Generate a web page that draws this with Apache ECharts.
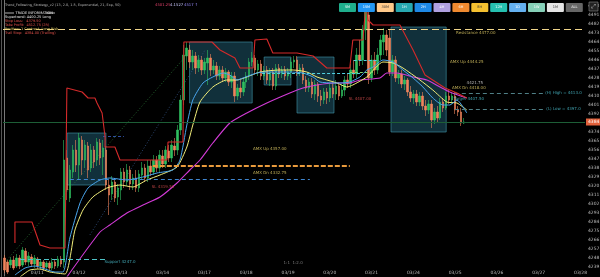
<!DOCTYPE html>
<html><head><meta charset="utf-8">
<script src="https://cdn.jsdelivr.net/npm/echarts@6/dist/echarts.min.js"></script>
<style>html,body{margin:0;padding:0;background:#000;}#c{width:600px;height:277px;}</style>
</head><body><div id="c"></div>
<script>
// ---- candle data (prices) ----
const opens=[4248,4244,4241,4246,4240,4248,4241,4255,4244,4249,4242,4247,4240,4244,4239,4243,4238,4244,4240,4247,
4244,4348,4308,4334,4356,4341,4366,4346,4360,4338,4356,4346,4363,4349,4356,4321,4312,4324,4309,4316,
4334,4324,4336,4322,4328,4318,4331,4338,4328,4340,4334,4346,4338,4350,4342,4355,4348,4360,4356,4376,
4406,4450,4456,4444,4450,4438,4446,4436,4443,4448,4436,4440,4430,4436,4428,4434,4424,4430,4410,4418,
4414,4424,4430,4444,4448,4436,4442,4430,4436,4426,4434,4420,4438,4432,4436,4430,4434,4444,4446,4434,
4438,4426,4418,4424,4412,4422,4410,4406,4414,4408,4418,4412,4420,4410,4416,4426,4422,4436,4432,4451,
4446,4476,4491,4428,4446,4436,4451,4464,4471,4468,4434,4446,4428,4432,4422,4426,4414,4408,4412,4404,
4410,4400,4396,4402,4386,4394,4388,4404,4398,4410,4406,4410,4396,4394,4383];
const closes=[4236,4234,4246,4238,4248,4240,4256,4244,4250,4242,4248,4240,4244,4238,4243,4238,4244,4240,4247,4242,
4346,4316,4336,4356,4341,4368,4346,4361,4336,4356,4344,4364,4348,4358,4321,4311,4324,4308,4318,4334,
4324,4336,4322,4328,4318,4332,4338,4328,4340,4334,4346,4338,4351,4342,4356,4348,4361,4356,4376,4406,
4451,4458,4444,4450,4438,4446,4436,4444,4448,4436,4440,4430,4436,4428,4434,4424,4430,4410,4418,4414,
4424,4430,4444,4448,4436,4442,4430,4436,4426,4434,4420,4438,4432,4436,4430,4434,4444,4446,4434,4438,
4426,4418,4424,4412,4422,4410,4406,4414,4408,4418,4412,4420,4410,4416,4426,4422,4436,4432,4451,4446,
4476,4494,4428,4446,4436,4451,4466,4471,4456,4434,4446,4428,4432,4422,4426,4414,4408,4412,4404,4410,
4400,4396,4402,4386,4394,4388,4404,4398,4410,4406,4410,4396,4394,4383,4384];
const lows=[4233,4232,4238,4236,4238,4237,4239,4241,4240,4239,4238,4237,4236,4235,4236,4235,4236,4237,4238,4239,
4238,4306,4304,4328,4334,4326,4331,4338,4328,4334,4338,4340,4341,4331,4316,4291,4306,4304,4301,4306,
4318,4320,4316,4316,4314,4314,4326,4324,4324,4330,4331,4334,4334,4338,4338,4344,4344,4350,4351,4371,
4401,4436,4438,4436,4432,4434,4431,4432,4421,4430,4432,4426,4426,4424,4424,4420,4418,4404,4406,4408,
4410,4418,4426,4440,4432,4430,4426,4426,4422,4420,4416,4416,4428,4428,4426,4426,4428,4438,4430,4430,
4422,4414,4414,4408,4406,4404,4400,4402,4402,4404,4408,4406,4406,4408,4410,4418,4418,4428,4428,4440,
4441,4466,4422,4424,4431,4432,4446,4451,4450,4430,4430,4424,4422,4418,4416,4410,4404,4402,4400,4400,
4396,4390,4392,4378,4382,4384,4386,4394,4396,4402,4402,4392,4390,4380,4382];
const highs=[4251,4246,4249,4250,4252,4251,4259,4258,4254,4252,4251,4249,4247,4246,4245,4245,4248,4247,4250,4250,
4366,4356,4341,4361,4366,4373,4370,4366,4364,4362,4360,4368,4367,4366,4360,4326,4330,4328,4322,4338,
4338,4342,4340,4332,4336,4336,4344,4342,4346,4346,4351,4350,4356,4356,4360,4361,4366,4368,4381,4411,
4461,4464,4461,4456,4454,4451,4450,4448,4456,4452,4446,4444,4440,4440,4438,4436,4434,4434,4422,4426,
4428,4434,4448,4454,4451,4446,4446,4440,4440,4438,4438,4442,4442,4440,4440,4438,4448,4450,4450,4442,
4442,4430,4428,4428,4426,4424,4416,4418,4418,4422,4424,4426,4424,4422,4430,4432,4442,4446,4458,4466,
4481,4501,4496,4451,4454,4458,4471,4478,4476,4476,4451,4450,4436,4436,4430,4428,4420,4416,4416,4414,
4414,4406,4406,4406,4398,4400,4408,4408,4414,4416,4414,4414,4400,4398,4388];
// ---- indicator lines [bar index, price] ----
const blueMA=[[3.5,4231],[6.9,4238],[10.2,4240],[13.6,4237],[16.9,4234],[19.6,4234],[21.9,4268],[25.3,4303],[28,4318],[32,4326],[35.3,4328],[41,4326],[46.4,4329],[51.1,4333],[56.4,4336],[58.8,4346],[61.1,4381],[63.1,4406],[66.5,4423],[69.8,4429],[73.2,4433],[75.5,4431],[77.9,4426],[79.9,4428],[84.6,4433],[87.9,4434],[92.3,4434],[95.6,4434],[100,4433],[103.4,4429],[105.7,4424],[110.1,4423],[112.4,4423],[115.7,4424],[119.1,4429],[121.4,4436],[123.5,4439],[126.8,4446],[130.2,4444],[133.5,4436],[136.9,4428],[140.2,4419],[143.5,4408],[146.9,4401],[149.2,4401],[151.6,4406],[154.9,4393]];
const yellowMA=[[5.2,4229],[8.5,4236],[11.9,4237],[15.2,4234],[20.3,4232],[23.6,4276],[26.3,4296],[29.6,4309],[34.3,4318],[38.7,4321],[43,4319],[47.7,4326],[52.1,4331],[57.8,4339],[61.1,4359],[63.1,4381],[65.5,4404],[69.8,4419],[74.5,4426],[77.9,4426],[81.2,4429],[85.6,4434],[92.3,4436],[96.7,4436],[101.3,4434],[104.7,4429],[108,4426],[111.4,4423],[114.7,4419],[116.7,4421],[121.4,4429],[126.8,4444],[130.2,4443],[133.5,4438],[139.2,4426],[143.5,4416],[148.2,4404],[151.6,4403],[154.9,4396]];
const magentaMA=[[20.9,4229],[32,4274],[35.3,4281],[41,4293],[46.4,4301],[52.1,4309],[57.8,4323],[62.1,4336],[65.5,4346],[69.8,4363],[75.5,4383],[81.2,4393],[87.9,4403],[95.6,4413],[100,4418],[104.7,4421],[110.1,4423],[115.7,4423],[119.1,4426],[125.8,4428],[128.1,4433],[131.5,4433],[136.9,4429],[141.5,4426],[145.9,4419],[149.2,4414],[154.9,4408]];
const redStop=[[3.5,4263],[3.5,4284],[9.2,4284],[11.9,4261],[15.2,4258],[20.3,4258],[20.9,4258],[20.9,4418],[26,4414],[28,4408],[30.3,4408],[31,4403],[32.7,4393],[33.7,4369],[33.7,4359],[37,4359],[38.7,4346],[54.4,4346],[54.8,4364],[59.8,4364],[60.1,4464],[69.5,4464],[72.2,4456],[77.2,4448],[78.9,4438],[83.3,4438],[83.9,4466],[87.9,4467],[89.9,4453],[98,4453],[103.4,4450],[108,4438],[115.7,4438],[116.7,4466],[120.1,4466],[121.1,4503],[121.8,4486],[123.5,4481],[132.5,4481],[136.9,4456],[140.9,4431],[147.6,4418],[151.6,4413],[154.9,4408]];
const trendGreen=[[0.2,4244],[60.5,4449]];
const trendBlue=[[28.6,4271],[67.2,4456]];
// ---- zones [x1, price1, x2, price2] ----
const boxes=[[21,4373,34,4321],[62,4464,83,4403],[87,4449,96,4421],[98,4449,110.4,4393],[129.5,4479,148,4374]];
// ---- levels [price, x1, x2, color, width, dash] (x null = full width) ----
const levels=[[4477,null,null,'#f0d58a',1.2,[7,4]],[4340,49.7,115.7,'#e89a3c',2,[5,2]],[4327,21.9,102.3,'#3f86d0',1,[4,3]],[4247,5.2,33.7,'#4fc3c8',1,[5,3]],[4433,86.3,119.1,'#4fd0e0',1,[3,2]],[4434,115.7,124.1,'#7bd36b',1,[3,2]],[4446,117,125.5,'#4fd0e0',1,[3,2]],[4413,150.9,181.1,'#4f7f86',1,[4,3]],[4397,150.9,181.1,'#4f7f86',1,[4,3]],[4370,33,40,'#3050a0',1,[3,2]]];
const lastPrice=4384;
const notes=[[88.9,4357,'AMX Up 4357.00','#e8d36a'],[88.9,4333,'AMX Dn 4332.75','#e8d36a'],[157.9,4473,'Resistance 4477.00','#e8d36a'],[154.9,4444,'AMX Up 4444.25','#e8d36a'],[157.6,4423,'4421.75','#dddddd'],[155.6,4418,'AMX Dn 4418.00','#e8d36a'],[155.6,4407,'Target 4407.50','#4fc8d8'],[53.1,4319,'SL 4319.50','#e05050'],[119.1,4407,'SL 4407.00','#e05050'],[38.7,4244,'Support 4247.0','#4fc8d8'],[187.3,4413,'(H) High = 4413.0','#4fc8d8'],[187.3,4397,'(L) Low = 4397.0','#4fc8d8'],[96.7,4243,'1:1  1:2.0','#999999']];
const xTickLabels=['03/11','03/12','03/13','03/14','03/17','03/18','03/19','03/20','03/21','03/24','03/25','03/26','03/27','03/28'];
const tickStart=11, tickStep=14, barCount=195;
const buttonLabels=['5M','15M','30M','1H','2H','4H','6H','8H','12H','1D','1W','1M','ALL'];
const buttonColors=['#1fae8c','#2196f3','#ffc98a','#27a8b0','#1e88e5','#b0a0e0','#f08a30','#f5c030','#26c0b0','#64b0f0','#86d0b8','#e4e4e4','#666666'];

const cats=[]; for(let i=0;i<barCount;i++) cats.push(String(i));
const candleData=opens.map((o,i)=>[o,closes[i],lows[i],highs[i]]);

const chart=echarts.init(document.getElementById('c'),null,{renderer:'canvas'});
const F='DejaVu Sans';
const markLineData=levels.map(l=>{
  const ls={color:l[3],width:l[4],type:l[5]};
  if(l[1]===null) return {yAxis:l[0],lineStyle:ls,label:{show:false}};
  return [{coord:[l[1],l[0]],lineStyle:ls,label:{show:false}},{coord:[l[2],l[0]]}];
});
markLineData.push({yAxis:lastPrice,lineStyle:{color:'#1d5e36',type:'solid',width:1},
  label:{show:true,position:'end',distance:1,formatter:lastPrice.toFixed(1),backgroundColor:'#e0603a',color:'#fff',fontSize:4.5,fontFamily:F,padding:[1,2]}});

const btnGraphics=[];
buttonLabels.forEach((t,k)=>{
  const x=339+k*18.9;
  btnGraphics.push({type:'rect',shape:{x:x,y:3,width:17,height:9,r:1},style:{fill:buttonColors[k]},z:100});
  btnGraphics.push({type:'text',x:x+8.5,y:7.5,style:{text:t,fill:(k===11||k===2||k===7)?'#333':'#fff',font:'3.5px '+F,align:'center',verticalAlign:'middle'},z:101});
});
const txt=(x,y,t,c,s)=>({type:'text',x:x,y:y,style:{text:t,fill:c,font:(s||4.2)+'px '+F,verticalAlign:'middle'},z:100});

chart.setOption({
  backgroundColor:'#000',
  animation:false,
  grid:{left:3,right:15,top:-3,bottom:1,containLabel:false,outerBoundsMode:'none'},
  xAxis:[{type:'category',data:cats,boundaryGap:true,
      axisLine:{show:false},axisTick:{show:false},splitLine:{show:false},
      axisLabel:{inside:true,margin:1,fontSize:4.5,fontFamily:F,color:'#bbb',
        interval:(idx)=>idx>=tickStart&&(idx-tickStart)%tickStep===0,
        formatter:(v,idx)=>xTickLabels[Math.round((idx-tickStart)/tickStep)]||''}},
    {type:'value',min:-0.5,max:barCount-0.5,show:false}],
  yAxis:{type:'value',position:'right',min:4230,max:4509,interval:9,scale:true,
    axisLine:{show:true,lineStyle:{color:'#777'}},axisTick:{show:false},splitLine:{show:false},
    axisLabel:{margin:3,fontSize:4.5,fontFamily:F,color:'#bbb',showMinLabel:false,showMaxLabel:false,formatter:v=>v.toFixed(1)}},
  series:[
    {type:'line',name:'zones',xAxisIndex:1,data:[],z:1,silent:true,
      markArea:{silent:true,data:boxes.map(b=>[{coord:[b[0],b[1]],itemStyle:{color:'rgba(40,115,140,0.42)',borderColor:'rgba(70,160,180,0.7)',borderWidth:0.8}},{coord:[b[2],b[3]]}])},
      markLine:{silent:true,symbol:'none',data:markLineData}},
    {type:'line',xAxisIndex:1,data:trendGreen,symbol:'none',lineStyle:{color:'#2f7d3a',width:0.8,type:[1,2]},z:2},
    {type:'line',xAxisIndex:1,data:trendBlue,symbol:'none',lineStyle:{color:'#35578a',width:0.8,type:[1,2]},z:2},
    {type:'candlestick',xAxisIndex:0,data:candleData,barWidth:2,z:3,
      itemStyle:{color:'#2fbf5f',color0:'#f0845c',borderColor:'#2fbf5f',borderColor0:'#f0845c',borderWidth:0.6}},
    {type:'line',xAxisIndex:1,data:magentaMA,symbol:'none',smooth:0.2,lineStyle:{color:'#d23ad6',width:1.1},z:4},
    {type:'line',xAxisIndex:1,data:yellowMA,symbol:'none',smooth:0.2,lineStyle:{color:'#f2ee7a',width:1},z:4},
    {type:'line',xAxisIndex:1,data:blueMA,symbol:'none',smooth:0.2,lineStyle:{color:'#4aa6ee',width:1},z:4},
    {type:'line',xAxisIndex:1,data:redStop,symbol:'none',lineStyle:{color:'#d42a2a',width:1.1},z:5},
    {type:'scatter',xAxisIndex:1,symbolSize:0,z:6,silent:true,
      data:notes.map(n=>({value:[n[0],n[1]],name:n[2],label:{color:n[3]}})),
      label:{show:true,position:'inside',formatter:'{b}',fontSize:4,fontFamily:F}}
  ],
  graphic:[
    {type:'line',shape:{x1:1.5,y1:0,x2:1.5,y2:277},style:{stroke:'#555',lineWidth:1},z:100},
    txt(5,5,'Trend_Following_Strategy_v2 (13, 2.0, 1.5, Exponential, 21, Exp, 50)','#b8b8b8',3.4),
    txt(155,5,'4501.25','#e0406a',3.8),txt(170,5,'4.1527','#c9c9ff',3.8),txt(184,5,'4517 ↑','#9a8cff',3.8),
    {type:'line',shape:{x1:5,y1:13,x2:14,y2:13},style:{stroke:'#ddd',lineWidth:0.8},z:100},
    {type:'line',shape:{x1:46,y1:13,x2:55,y2:13},style:{stroke:'#ddd',lineWidth:0.8},z:100},
    txt(15.5,13,'TRADE INFORMATION','#eeeeee',3.5),
    txt(5,17.5,'Supertrend: 4400.25 Long','#e6e6e6',3.5),
    txt(5,21.5,'Stop Loss:   4379.50','#e0504a',3.5),
    txt(5,25.5,'Take Profit:  4512.75 (2R)','#e0504a',3.5),
    txt(5,29.5,'Position: 1 Contract, Long Risk','#e8d36a',3.5),
    txt(5,33.5,'Trail Stop:  4384.00 (Trailing)','#e0504a',3.5),
    {type:'rect',shape:{x:589,y:2,width:9,height:9},style:{fill:'#222',stroke:'#888',lineWidth:0.6},z:100},
    txt(591,6.5,'⤢','#ccc',6)
  ].concat(btnGraphics)
});
</script></body></html>
